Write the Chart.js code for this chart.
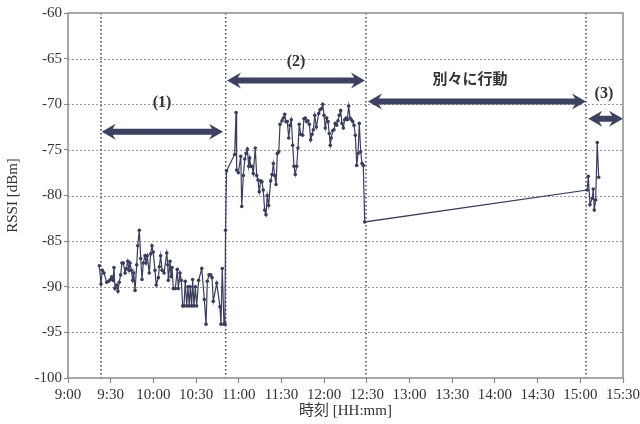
<!DOCTYPE html>
<html>
<head>
<meta charset="utf-8">
<title>RSSI</title>
<script src="https://cdn.jsdelivr.net/npm/chart.js@4/dist/chart.umd.min.js"></script>
<style>
  html, body { margin: 0; padding: 0; background: #ffffff; }
  canvas { display: block; }
</style>
</head>
<body>
<canvas id="rssi" width="640" height="424"></canvas>
<script>
// Time is stored as minutes elapsed after 9:00.
const timeTicks = ['9:00', '9:30', '10:00', '10:30', '11:00', '11:30', '12:00',
                   '12:30', '13:00', '13:30', '14:00', '14:30', '15:00', '15:30'];

// (1) before the walk together
const seg1Min = [22.0, 23.2, 24.1, 25.3, 27.2, 28.6, 29.7, 30.7, 31.6, 32.3,
                 33.0, 34.2, 35.1, 36.0, 37.0, 37.9, 38.9, 40.1, 41.0, 42.0,
                 42.9, 43.6, 44.5, 45.5, 46.2, 47.1, 48.3, 49.0, 50.1, 51.1,
                 52.0, 52.9, 54.1, 54.8, 55.7, 57.1, 58.1, 59.0, 59.9, 61.1,
                 62.0, 63.5, 64.2, 65.1, 66.1, 67.5, 69.4, 70.1, 70.5, 71.7,
                 72.4, 73.1, 74.0, 75.4, 76.8, 77.5, 78.7, 79.6, 80.6, 81.5,
                 82.4, 83.4, 84.3, 85.2, 85.9, 86.9, 87.6, 88.5, 89.5, 90.4,
                 91.8, 94.0, 95.8, 97.0, 97.9, 99.1, 100.3, 101.2, 102.1, 104.5,
                 106.8, 107.5, 108.4, 109.6, 110.3];
const seg1Rssi = [-87.7, -89.7, -88.2, -88.5, -89.5, -89.4, -89.2, -88.9, -89.3, -87.9,
                  -90.2, -89.8, -90.5, -89.5, -88.7, -87.4, -87.4, -88.5, -88.0, -87.2,
                  -88.2, -87.4, -88.2, -89.3, -88.5, -90.4, -87.6, -85.5, -83.8, -86.9,
                  -89.2, -87.4, -86.6, -87.4, -86.6, -88.5, -86.4, -85.5, -86.2, -88.2,
                  -89.8, -89.0, -87.8, -86.6, -88.2, -88.5, -86.3, -87.6, -89.3, -87.2,
                  -88.9, -87.9, -90.2, -90.2, -88.1, -90.2, -88.5, -89.3, -92.1, -92.1,
                  -89.4, -92.1, -90.0, -92.1, -90.0, -92.1, -89.2, -92.1, -90.0, -92.1,
                  -89.3, -88.0, -91.4, -94.1, -89.4, -88.7, -88.7, -89.0, -91.6, -89.6,
                  -92.2, -94.1, -88.0, -94.1, -94.1];

// (2)
const seg2Min = [110.7, 111.4, 117.1, 118.1, 118.5, 119.7, 121.4, 122.1, 123.2, 124.2,
                 125.1, 126.0, 127.0, 127.7, 128.4, 129.3, 130.2, 131.6, 132.6, 133.5,
                 134.4, 135.4, 136.3, 137.2, 138.2, 139.1, 140.0, 141.0, 142.4, 143.4,
                 144.3, 145.2, 146.2, 147.1, 148.1, 149.0, 150.4, 151.3, 152.3, 153.2,
                 154.1, 155.1, 156.0, 156.9, 157.9, 158.8, 159.7, 160.7, 161.6, 162.5,
                 163.5, 164.9, 165.8, 166.8, 167.7, 168.6, 169.6, 170.5, 171.5, 172.4,
                 173.4, 174.5, 176.2, 177.1, 178.0, 179.0, 179.9, 180.8, 181.8, 182.7,
                 183.6, 184.3, 185.0, 186.0, 186.9, 187.8, 188.8, 189.7, 190.6, 191.6,
                 192.5, 193.5, 194.4, 195.4, 196.3, 197.2, 198.2, 199.1, 200.1, 201.0,
                 201.9, 202.9, 203.8, 204.7, 205.7, 206.6, 207.5, 208.5];
const seg2Rssi = [-83.8, -77.3, -75.5, -70.9, -77.2, -77.5, -75.7, -81.2, -77.8, -76.0,
                  -75.4, -74.9, -76.8, -75.9, -76.8, -76.8, -77.6, -74.8, -77.8, -78.3,
                  -79.6, -78.4, -78.5, -79.4, -81.6, -82.1, -80.0, -81.1, -78.4, -77.7,
                  -76.5, -77.8, -78.8, -75.4, -75.2, -72.2, -71.8, -71.5, -71.1, -71.9,
                  -71.9, -73.7, -72.3, -71.7, -74.5, -76.8, -77.7, -76.8, -74.8, -72.2,
                  -73.3, -73.4, -71.6, -71.5, -71.9, -71.8, -72.2, -73.9, -73.3, -72.8,
                  -71.2, -72.5, -71.0, -70.6, -70.5, -70.0, -71.2, -72.6, -71.5, -71.9,
                  -73.2, -74.5, -73.7, -72.9, -72.8, -72.1, -72.3, -71.8, -71.2, -70.7,
                  -72.1, -72.6, -71.7, -71.5, -71.7, -70.2, -71.5, -71.7, -71.9, -72.3,
                  -73.4, -76.7, -75.4, -72.1, -75.2, -76.5, -76.7, -82.9];

// (3)
const seg3Min = [364.9, 365.6, 366.8, 368.4, 369.1, 369.8, 370.8, 371.9, 372.9];
const seg3Rssi = [-79.4, -77.9, -81.0, -80.3, -79.3, -81.6, -80.5, -74.2, -78.0];

// Phase boundaries (minutes after 9:00)
const boundaryMin = [23.2, 110.8, 209.4, 364.0];

// Phase arrows: start, end, level (dBm) and caption
const phaseLabels = ['(1)', '(2)', '別々に行動', '(3)'];
const phaseFrom = [23.7, 111.7, 210.8, 365.6];
const phaseTo = [108.9, 208.7, 364.0, 390.0];
const phaseArrowAt = [-73.0, -67.4, -69.7, -71.6];
const phaseCaptionX = [66.1, 160.2, 282.5, 376.6];
const phaseCaptionAt = [-69.8, -65.3, -67.4, -68.9];

const INK = '#3a3e5c';
const TEXT = '#333333';
const SERIF = "'Liberation Serif', 'Noto Sans CJK JP', serif";

function toPoints(xs, ys) {
  return xs.map((x, i) => ({ x: x, y: ys[i] }));
}

const rssiPoints = [].concat(
  toPoints(seg1Min, seg1Rssi),
  toPoints(seg2Min, seg2Rssi),
  toPoints(seg3Min, seg3Rssi)
);

const boundarySets = boundaryMin.map(t => ({
  data: [{ x: t, y: -60 }, { x: t, y: -100 }],
  borderColor: INK,
  borderWidth: 1.5,
  borderDash: [1.5, 2.5],
  pointRadius: 0,
  fill: false,
  order: 2
}));

function drawArrow(ctx, x1, x2, y) {
  const hl = 14, hh = 8, sh = 3, notch = 3;
  ctx.beginPath();
  ctx.moveTo(x1, y);
  ctx.lineTo(x1 + hl, y - hh);
  ctx.lineTo(x1 + hl - notch, y - sh);
  ctx.lineTo(x2 - hl + notch, y - sh);
  ctx.lineTo(x2 - hl, y - hh);
  ctx.lineTo(x2, y);
  ctx.lineTo(x2 - hl, y + hh);
  ctx.lineTo(x2 - hl + notch, y + sh);
  ctx.lineTo(x1 + hl - notch, y + sh);
  ctx.lineTo(x1 + hl, y + hh);
  ctx.closePath();
  ctx.fill();
}

const plotDecor = {
  id: 'plotDecor',
  beforeDatasetsDraw(chart) {
    const { ctx, chartArea: a, scales: { y } } = chart;
    ctx.save();
    ctx.strokeStyle = '#9a9a9a';
    ctx.lineWidth = 1;
    ctx.setLineDash([2, 2]);
    y.ticks.forEach(t => {
      if (t.value <= y.min || t.value >= y.max) return;
      const py = Math.round(y.getPixelForValue(t.value)) + 0.5;
      ctx.beginPath();
      ctx.moveTo(a.left, py);
      ctx.lineTo(a.right, py);
      ctx.stroke();
    });
    ctx.restore();
  },
  afterDatasetsDraw(chart) {
    const { ctx, chartArea: a, scales: { x, y } } = chart;
    ctx.save();
    // plot frame
    ctx.strokeStyle = '#8c8c8c';
    ctx.lineWidth = 1.5;
    ctx.strokeRect(a.left, a.top, a.right - a.left, a.bottom - a.top);
    // phase arrows and captions
    ctx.fillStyle = '#3e4261';
    phaseLabels.forEach((label, i) => {
      drawArrow(ctx, x.getPixelForValue(phaseFrom[i]), x.getPixelForValue(phaseTo[i]),
                y.getPixelForValue(phaseArrowAt[i]));
    });
    ctx.fillStyle = TEXT;
    ctx.textAlign = 'center';
    ctx.textBaseline = 'middle';
    phaseLabels.forEach((label, i) => {
      ctx.font = (i === 2 ? 'bold 15px ' : 'bold 16px ') + SERIF;
      ctx.fillText(label, x.getPixelForValue(phaseCaptionX[i]), y.getPixelForValue(phaseCaptionAt[i]));
    });
    ctx.restore();
  }
};

new Chart(document.getElementById('rssi'), {
  type: 'line',
  data: {
    datasets: [{
      label: 'RSSI',
      data: rssiPoints,
      borderColor: INK,
      backgroundColor: INK,
      borderWidth: 1.2,
      pointRadius: 1.8,
      pointBorderWidth: 0,
      pointBackgroundColor: INK,
      fill: false,
      tension: 0,
      order: 1
    }].concat(boundarySets)
  },
  options: {
    responsive: false,
    animation: false,
    devicePixelRatio: 1,
    layout: { padding: { top: 13, right: 17, left: 0, bottom: 0 } },
    plugins: {
      legend: { display: false },
      tooltip: { enabled: false }
    },
    scales: {
      x: {
        type: 'linear',
        min: 0,
        max: 390,
        border: { display: false },
        grid: { drawOnChartArea: false, drawTicks: true, tickLength: 5, tickColor: '#8c8c8c', tickWidth: 1.2 },
        ticks: {
          stepSize: 30,
          autoSkip: false,
          maxRotation: 0,
          padding: 3,
          color: TEXT,
          font: { family: SERIF, size: 15 },
          callback: (v, i) => timeTicks[i]
        },
        title: {
          display: true,
          text: '時刻 [HH:mm]',
          color: TEXT,
          font: { family: SERIF, size: 15 },
          padding: { top: 2, bottom: 4 }
        },
        afterFit: s => { s.height = 46; s.paddingLeft = 0; s.paddingRight = 0; }
      },
      y: {
        min: -100,
        max: -60,
        border: { display: false },
        grid: { drawOnChartArea: false, drawTicks: true, tickLength: 4, tickColor: '#8c8c8c', tickWidth: 1.2 },
        ticks: {
          stepSize: 5,
          padding: 2,
          color: TEXT,
          font: { family: SERIF, size: 15 }
        },
        title: {
          display: true,
          text: 'RSSI [dBm]',
          color: TEXT,
          font: { family: SERIF, size: 15 },
          padding: { top: 4, bottom: 4 }
        },
        afterFit: s => { s.width = 68; }
      }
    }
  },
  plugins: [plotDecor]
});
</script>
</body>
</html>
